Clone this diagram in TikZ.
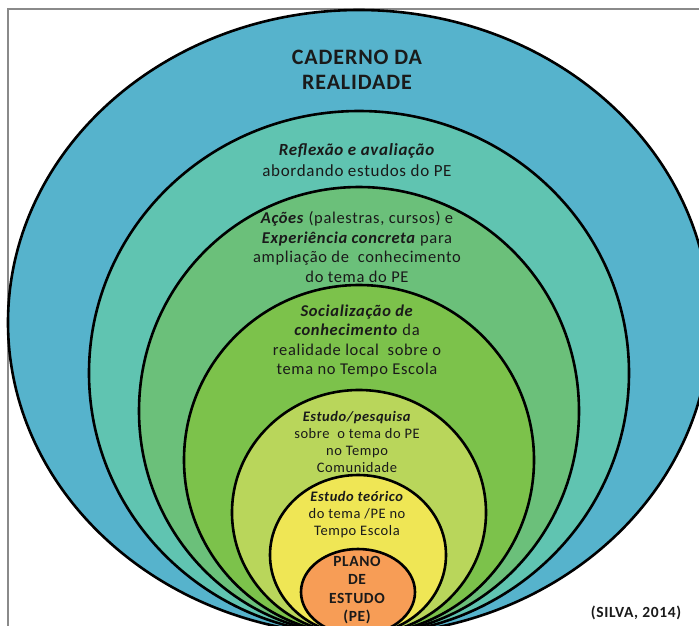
\documentclass[tikz,border=0pt]{standalone}
\usepackage{fontspec}
\setmainfont{Carlito}[LetterSpace=4.0]
\definecolor{cOuter}{HTML}{56B3CC}
\definecolor{cTeal}{HTML}{60C4B1}
\definecolor{cGreen}{HTML}{6BC07A}
\definecolor{cLeaf}{HTML}{7CC24B}
\definecolor{cLime}{HTML}{B9D65B}
\definecolor{cYellow}{HTML}{EFE655}
\definecolor{cOrange}{HTML}{F79D56}
\definecolor{cText}{HTML}{1A1A1A}
\definecolor{cFrame}{HTML}{8A8A8A}
\tikzset{
  ring/.style={draw=black, line width=2.6pt},
  txt/.style={align=center, inner sep=0pt, text=cText},
}
\newcommand{\emb}[1]{\textbf{\textit{#1}}}
\begin{document}
\begin{tikzpicture}[x=1pt,y=1pt]
\useasboundingbox (0,0) rectangle (699,-625);
\clip (0,0) rectangle (699,-625);
\fill[white] (0,0) rectangle (699,-625);
\draw[cFrame, line width=2pt] (7.5,-630) -- (7.5,-9) -- (705,-9);
% nested ellipses, all touching near the bottom
\draw[ring, fill=cOuter]  (359,-322.5) ellipse [x radius=351, y radius=312.5];
\draw[ring, fill=cTeal]   (359,-373)   ellipse [x radius=270, y radius=262];
\draw[ring, fill=cGreen]  (359,-411)   ellipse [x radius=220, y radius=224];
\draw[ring, fill=cLeaf]   (359,-460)   ellipse [x radius=175, y radius=175];
\draw[ring, fill=cLime]   (359,-512.5) ellipse [x radius=127, y radius=122.5];
\draw[ring, fill=cYellow] (358,-555)   ellipse [x radius=88,  y radius=80];
\draw[ring, fill=cOrange] (358,-592)   ellipse [x radius=57,  y radius=43];
% texts
\node[txt, font=\fontsize{22}{25}\selectfont\bfseries] (title) at (357,-70)
  {CADERNO DA\\REALIDADE};
\node[txt, font=\fontsize{17}{20.5}\selectfont] (reflex) at (357,-160)
  {\emb{Reflexão e avaliação}\\abordando estudos do PE};
\node[txt, font=\fontsize{16.5}{19.5}\selectfont] (acoes) at (357,-247)
  {\emb{Ações} (palestras, cursos) e\\\emb{Experiência concreta} para\\ampliação de\ \ conhecimento\\do tema do PE};
\node[txt, font=\fontsize{16.5}{19.5}\selectfont] (social) at (357,-341)
  {\emb{Socialização de}\\\emb{conhecimento} da\\realidade local\ \ sobre o\\tema no Tempo Escola};
\node[txt, font=\fontsize{14.5}{17}\selectfont] (pesq) at (357,-442)
  {\emb{Estudo/pesquisa}\\sobre\ \ o tema do PE\\no Tempo\\Comunidade};
\node[txt, font=\fontsize{14.5}{17}\selectfont] (teor) at (357,-515)
  {\emb{Estudo teórico}\\do tema /PE no\\Tempo Escola};
\node[txt, font=\fontsize{15.5}{18.5}\selectfont\bfseries] (plano) at (357,-590)
  {PLANO\\DE\\ESTUDO\\(PE)};
\node[txt, font=\fontsize{15.5}{17}\selectfont\bfseries] (silva) at (636,-613)
  {(SILVA, 2014)};
\end{tikzpicture}
\end{document}
